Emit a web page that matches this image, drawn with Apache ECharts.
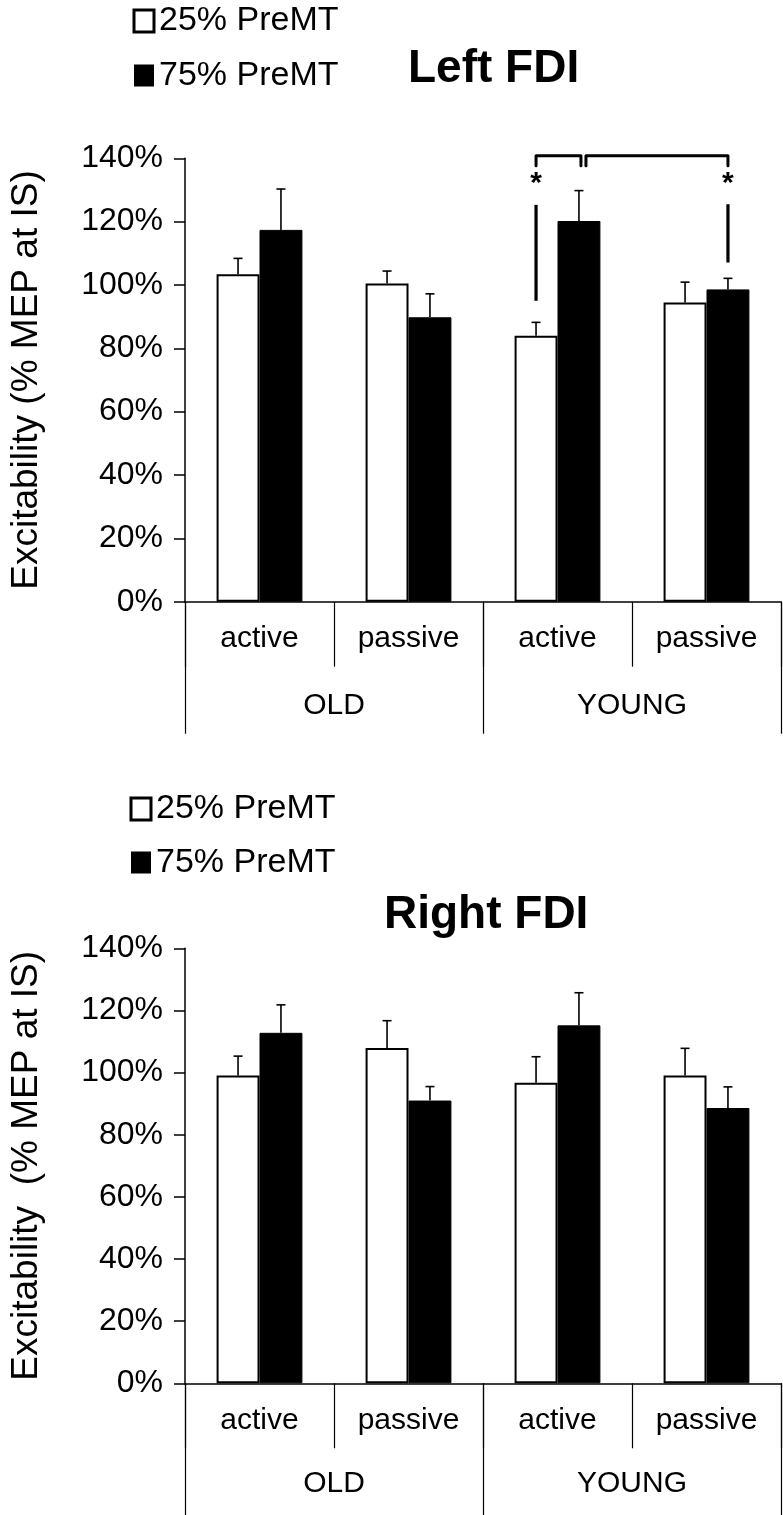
<!DOCTYPE html>
<html>
<head>
<meta charset="utf-8">
<script src="https://cdn.jsdelivr.net/npm/echarts@6/dist/echarts.min.js"></script>
<style>
html,body{margin:0;padding:0;background:#fff;}
#chart{width:783px;height:1515px;}
</style>
</head>
<body>
<div id="chart"></div>
<script>
// ---------- data ----------
const categories = ['active', 'passive', 'active', 'passive'];
const groups = ['OLD', 'YOUNG'];
const seriesNames = ['25% PreMT', '75% PreMT'];
const panelTitles = ['Left FDI', 'Right FDI'];
const yAxisNames = ['Excitability (% MEP at IS)', 'Excitability  (% MEP at IS)'];

const leftP25 = [103.4, 100.5, 84.0, 94.5];
const leftP25Err = [5.0, 3.9, 4.2, 6.4];
const leftP75 = [117.4, 89.8, 120.2, 98.6];
const leftP75Err = [12.9, 7.4, 9.6, 3.5];

const rightP25 = [99.1, 107.9, 96.7, 99.1];
const rightP25Err = [6.2, 8.8, 8.4, 8.7];
const rightP75 = [112.8, 91.0, 115.2, 88.6];
const rightP75Err = [9.0, 4.5, 10.5, 6.8];

const yMin = 0, yMax = 140, yStep = 20;

// significance annotations (left FDI panel): [cat, bar, cat, bar, level]
const sigBrackets = [[2, 0, 2, 1, 140.8], [2, 1, 3, 1, 140.8]];
// stars: [cat, bar, level]
const sigStars = [[2, 0, 134.2], [3, 1, 134.2]];
// vertical marker lines: [cat, bar, from, to]
const sigLines = [[2, 0, 95.0, 125.3], [3, 1, 107.1, 125.5]];

// ---------- style ----------
const FONT = '"Liberation Sans", Arial, Helvetica, sans-serif';
const BAR_FRAC = 0.288;
const INK = '#000';

function barX(api, cat, bar) {
  const c = api.coord([cat, 0]);
  const bw = api.size([1, 0])[0] * BAR_FRAC;
  return c[0] + (bar === 0 ? -1 : 1) * bw / 2;
}

const chart = echarts.init(document.getElementById('chart'), null, {renderer: 'canvas'});

const grids = [
  {left: 183, right: 2, top: 158.3, height: 443.4},
  {left: 183, right: 2, top: 948.3, height: 435}
];

const xAxes = [];
const yAxes = [];
const series = [];
const panels = [
  [leftP25, leftP25Err, leftP75, leftP75Err],
  [rightP25, rightP25Err, rightP75, rightP75Err]
];

const lineStyle = {color: INK, width: 1.5};

panels.forEach(function (p, i) {
  xAxes.push({
    gridIndex: i, type: 'category', data: categories, position: 'bottom',
    axisLine: {show: true, lineStyle: lineStyle},
    axisTick: {show: true, length: 65, interval: 0, lineStyle: {color: INK, width: 1.2}},
    axisLabel: {interval: 0, fontSize: 30, color: INK, margin: 22, fontFamily: FONT},
    splitLine: {show: false}
  });
  xAxes.push({
    gridIndex: i, type: 'category', data: groups, position: 'bottom',
    axisLine: {show: false},
    axisTick: {show: true, length: 132, interval: 0, lineStyle: {color: INK, width: 1.2}},
    axisLabel: {interval: 0, fontSize: 30, color: INK, margin: i === 0 ? 89 : 85, fontFamily: FONT},
    splitLine: {show: false}
  });
  yAxes.push({
    gridIndex: i, type: 'value', min: yMin, max: yMax, interval: yStep,
    name: yAxisNames[i], nameLocation: 'middle', nameRotate: 90, nameGap: 140,
    nameTextStyle: {fontSize: 37, color: INK, fontFamily: FONT},
    axisLine: {show: true, lineStyle: lineStyle},
    axisTick: {show: true, inside: false, length: 11, lineStyle: lineStyle},
    axisLabel: {fontSize: 32, color: INK, margin: 22, formatter: '{value}%', fontFamily: FONT},
    splitLine: {show: false}
  });

  const xi = i * 2;
  series.push({
    name: seriesNames[0], type: 'bar', xAxisIndex: xi, yAxisIndex: i,
    data: p[0], barWidth: (BAR_FRAC * 100) + '%', barGap: '0%',
    itemStyle: {color: '#fff', borderColor: INK, borderWidth: 2},
    emphasis: {disabled: true}
  });
  series.push({
    name: seriesNames[1], type: 'bar', xAxisIndex: xi, yAxisIndex: i,
    data: p[2], barWidth: (BAR_FRAC * 100) + '%', barGap: '0%',
    itemStyle: {color: '#000', borderColor: INK, borderWidth: 1},
    emphasis: {disabled: true}
  });
  const errData = p[0].map(function (v, k) { return [k, v, p[1][k], 0]; })
    .concat(p[2].map(function (v, k) { return [k, v, p[3][k], 1]; }));
  series.push({
    type: 'custom', xAxisIndex: xi, yAxisIndex: i, z: 5,
    data: errData,
    encode: {x: 0, y: 1},
    renderItem: function (params, api) {
      const cat = api.value(0), mean = api.value(1), err = api.value(2), bar = api.value(3);
      const x = barX(api, cat, bar);
      const y0 = api.coord([cat, mean])[1];
      const y1 = api.coord([cat, mean + err])[1];
      return {
        type: 'group',
        children: [
          {type: 'line', shape: {x1: x, y1: y0, x2: x, y2: y1}, style: {stroke: INK, lineWidth: 1.6}},
          {type: 'line', shape: {x1: x - 4.5, y1: y1, x2: x + 4.5, y2: y1}, style: {stroke: INK, lineWidth: 1.6}}
        ]
      };
    }
  });
});

// significance annotations on the left panel
series.push({
  type: 'custom', xAxisIndex: 0, yAxisIndex: 0, z: 6, clip: false,
  data: sigBrackets,
  encode: {x: 0, y: 4},
  renderItem: function (params, api) {
    const c1 = api.value(0), b1 = api.value(1), c2 = api.value(2), b2 = api.value(3), lvl = api.value(4);
    let x1 = barX(api, c1, b1), x2 = barX(api, c2, b2);
    // leave a small gap where two brackets meet
    sigBrackets.forEach(function (o, j) {
      if (j === params.dataIndex) return;
      if (o[2] === c1 && o[3] === b1) x1 += 7;
      if (o[0] === c2 && o[1] === b2) x2 += 2;
    });
    const y = api.coord([c1, lvl])[1];
    return {
      type: 'polyline',
      shape: {points: [[x1, y + 10], [x1, y], [x2, y], [x2, y + 10]]},
      style: {stroke: INK, lineWidth: 3, fill: null, lineJoin: 'round', lineCap: 'round'}
    };
  }
});
series.push({
  type: 'custom', xAxisIndex: 0, yAxisIndex: 0, z: 6, clip: false,
  data: sigStars,
  encode: {x: 0, y: 2},
  renderItem: function (params, api) {
    const x = barX(api, api.value(0), api.value(1));
    const y = api.coord([api.value(0), api.value(2)])[1];
    return {
      type: 'text',
      style: {text: '*', x: x, y: y + 7, align: 'center', verticalAlign: 'middle',
        font: 'bold 30px ' + FONT, fill: INK}
    };
  }
});
series.push({
  type: 'custom', xAxisIndex: 0, yAxisIndex: 0, z: 6, clip: false,
  data: sigLines,
  encode: {x: 0, y: 3},
  renderItem: function (params, api) {
    const x = barX(api, api.value(0), api.value(1));
    const ya = api.coord([api.value(0), api.value(2)])[1];
    const yb = api.coord([api.value(0), api.value(3)])[1];
    return {
      type: 'line', shape: {x1: x, y1: ya, x2: x, y2: yb},
      style: {stroke: INK, lineWidth: 3.2}
    };
  }
});

const legendData = [
  {name: seriesNames[0], itemStyle: {color: '#fff', borderColor: INK, borderWidth: 3}},
  {name: seriesNames[1], itemStyle: {color: '#000', borderColor: INK, borderWidth: 0}}
];

const option = {
  animation: false,
  backgroundColor: '#fff',
  textStyle: {fontFamily: FONT},
  title: [
    {text: panelTitles[0], left: 408, top: 46, padding: 0,
      textStyle: {fontSize: 46, fontWeight: 'bold', color: INK, fontFamily: FONT}},
    {text: panelTitles[1], left: 384, top: 892, padding: 0,
      textStyle: {fontSize: 46, fontWeight: 'bold', color: INK, fontFamily: FONT}}
  ],
  legend: [
    {orient: 'vertical', left: 132.5, top: 4, padding: 0, itemGap: 20.5,
      itemWidth: 20, itemHeight: 22, icon: 'rect', data: legendData, selectedMode: false,
      textStyle: {fontSize: 34, color: INK, fontFamily: FONT}},
    {orient: 'vertical', left: 129.5, top: 792, padding: 0, itemGap: 19.5,
      itemWidth: 20, itemHeight: 22, icon: 'rect', data: legendData, selectedMode: false,
      textStyle: {fontSize: 34, color: INK, fontFamily: FONT}}
  ],
  grid: grids,
  xAxis: xAxes,
  yAxis: yAxes,
  series: series
};
chart.setOption(option);
</script>
</body>
</html>
